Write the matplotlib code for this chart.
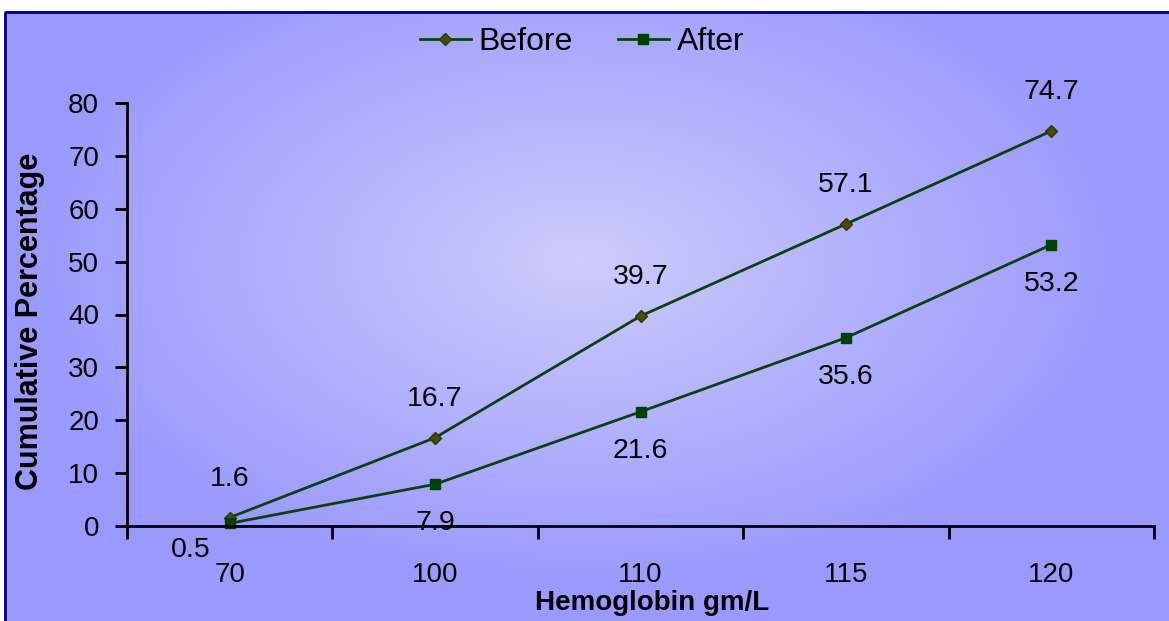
import numpy as np
import matplotlib.pyplot as plt
from matplotlib.patches import Rectangle

# Valores do gráfico
hemoglobina = ['70', '100', '110', '115', '120']
antes = [1.6, 16.7, 39.7, 57.1, 74.7]
depois = [0.5, 7.9, 21.6, 35.6, 53.2]

plt.rcParams['font.family'] = ['Liberation Sans', 'DejaVu Sans']

W, H = 1169, 621
fig = plt.figure(figsize=(W / 100, H / 100), dpi=100)

# Fundo com degradê radial (claro no centro, azul nas bordas)
bg = fig.add_axes([0, 0, 1, 1], zorder=0)
yy, xx = np.mgrid[0:H, 0:W]
d = np.sqrt(((xx - 580) / 560.0) ** 2 + ((yy - 260) / 330.0) ** 2)
t = np.clip(d, 0, 1) ** 0.9
c0 = np.array([206, 206, 252]) / 255.0
c1 = np.array([154, 154, 254]) / 255.0
img = c0[None, None, :] * (1 - t[..., None]) + c1[None, None, :] * t[..., None]
img[:11, :, :] = 1.0
img[:, :4, :] = 1.0
bg.imshow(img, aspect='auto', extent=[0, W, H, 0])
bg.set_xlim(0, W)
bg.set_ylim(H, 0)
bg.axis('off')
bg.add_patch(Rectangle((5, 12), W + 10, H + 10, fill=False, edgecolor='#000080', linewidth=2))

ax = fig.add_axes([127 / W, (H - 526) / H, (1154 - 127) / W, (526 - 103) / H], zorder=1)
ax.patch.set_alpha(0)

x = np.arange(len(hemoglobina)) + 0.5
linha = '#0f3f0f'
ax.plot(x, antes, color=linha, linewidth=2, marker='D', markersize=6,
        markerfacecolor='#4a4a00', markeredgecolor='#2a3a00', label='Before', clip_on=False)
ax.plot(x, depois, color=linha, linewidth=2, marker='s', markersize=7,
        markerfacecolor='#004000', markeredgecolor='#004000', label='After', clip_on=False)

ax.set_xlim(0, len(hemoglobina))
ax.set_ylim(0, 80)
ax.set_yticks(range(0, 81, 10))
ax.set_xticks(range(0, len(hemoglobina) + 1))
ax.set_xticklabels([])
ax.set_xticks(x, minor=True)
ax.set_xticklabels(hemoglobina, minor=True)
ax.tick_params(axis='x', which='major', direction='out', length=9, width=2)
ax.tick_params(axis='x', which='minor', length=0, pad=26, labelsize=20)
ax.tick_params(axis='y', direction='out', length=9, width=2, pad=11, labelsize=20)

for lado in ['top', 'right']:
    ax.spines[lado].set_visible(False)
for lado in ['left', 'bottom']:
    ax.spines[lado].set_linewidth(2)

# Rótulos de valor
fs = 20.5
for xi, v in zip(x, antes):
    ax.annotate(f'{v}', (xi, v), xytext=(0, 28), textcoords='offset points',
                ha='center', va='center', fontsize=fs)
for i, (xi, v) in enumerate(zip(x, depois)):
    if i == 0:
        ax.annotate(f'{v}', (xi, v), xytext=(-28, -19), textcoords='offset points',
                    ha='center', va='center', fontsize=fs)
    else:
        ax.annotate(f'{v}', (xi, v), xytext=(0, -28), textcoords='offset points',
                    ha='center', va='center', fontsize=fs)

ax.set_ylabel('Cumulative Percentage', fontsize=22, fontweight='bold')
ax.yaxis.set_label_coords(-0.08, 0.483)
ax.set_xlabel('Hemoglobin gm/L', fontsize=20, fontweight='bold')
ax.xaxis.set_label_coords(0.511, -0.152)

fig.legend(loc='center', bbox_to_anchor=(582 / W, 1 - 42 / H), ncol=2, frameon=False,
           fontsize=23, handlelength=1.6, handletextpad=0.25, columnspacing=1.4)

fig.savefig('out.png', dpi=100)
